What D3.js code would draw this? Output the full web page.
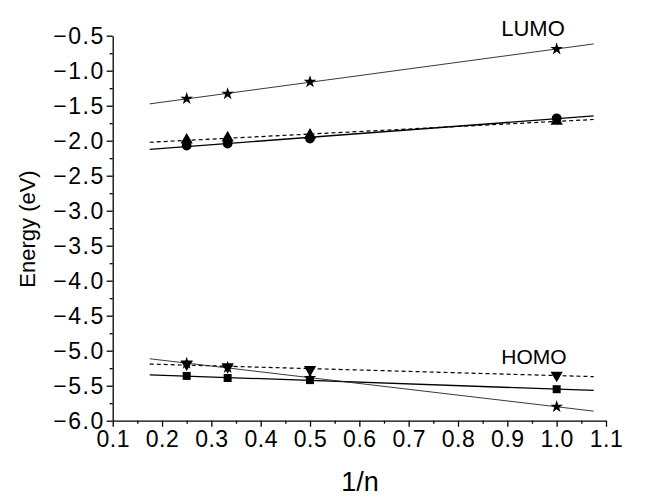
<!DOCTYPE html>
<html><head><meta charset="utf-8">
<script src="https://cdn.jsdelivr.net/npm/d3@7"></script>
<style>body{margin:0;background:#fff}svg{display:block}text{font-family:"Liberation Sans",Arial,sans-serif;fill:#000}</style>
</head><body><svg id="c" width="652" height="501"></svg>
<script>
const xValues = [0.25, 0.333, 0.5, 1.0];
const lumoStar = [-1.40, -1.33, -1.16, -0.69];
const lumoCircle = [-2.07, -2.04, -1.97, -1.68];
const lumoTriangle = [-1.99, -1.96, -1.92, -1.72];
const homoTriangleDown = [-5.19, -5.23, -5.27, -5.35];
const homoSquare = [-5.36, -5.39, -5.42, -5.55];
const homoStar = [-5.18, -5.24, -5.39, -5.80];
const xTicks = [0.1,0.2,0.3,0.4,0.5,0.6,0.7,0.8,0.9,1.0,1.1];
const yTicks = [-0.5,-1.0,-1.5,-2.0,-2.5,-3.0,-3.5,-4.0,-4.5,-5.0,-5.5,-6.0];
const fitRange = [0.175, 1.075];

const series = [
  {vals: lumoStar, sym: "star", line: "thin"},
  {vals: lumoCircle, sym: "circle", line: "solid"},
  {vals: lumoTriangle, sym: "tri", line: "dash"},
  {vals: homoTriangleDown, sym: "tridown", line: "dash"},
  {vals: homoSquare, sym: "square", line: "solid"},
  {vals: homoStar, sym: "star", line: "thin"}
];

const svg = d3.select("#c");
const x = d3.scaleLinear().domain([0.1, 1.1]).range([112.7, 606]);
const y = d3.scaleLinear().domain([-6.0, -0.5]).range([420.7, 35.7]);
const fmt = d3.format(".1f");

// axes
const xMinor = d3.range(0.15, 1.1, 0.1);
const yMinor = d3.range(-5.75, -0.5, 0.5);
const gx = svg.append("g").attr("transform", "translate(0,420.7)")
  .call(d3.axisBottom(x).tickValues(xTicks).tickFormat(fmt).tickSize(6).tickSizeOuter(0));
svg.append("g").attr("transform", "translate(0,420.7)")
  .call(d3.axisBottom(x).tickValues(xMinor).tickFormat("").tickSize(3).tickSizeOuter(0))
  .select(".domain").remove();
const gy = svg.append("g").attr("transform", "translate(112.7,0)")
  .call(d3.axisLeft(y).tickValues(yTicks).tickFormat(fmt).tickSize(6).tickSizeOuter(0));
svg.append("g").attr("transform", "translate(112.7,0)")
  .call(d3.axisLeft(y).tickValues(yMinor).tickFormat("").tickSize(3).tickSizeOuter(0))
  .select(".domain").remove();
svg.selectAll(".domain, .tick line").attr("stroke", "#000").attr("stroke-width", 1.3);
svg.selectAll(".tick text").style("font-family", '"Liberation Sans",Arial,sans-serif');
gx.selectAll("text").attr("font-size", 23).attr("letter-spacing", 0.5).attr("dy", "0.71em").attr("y", 10);
gy.selectAll("text").attr("font-size", 23).attr("x", -8).attr("dy", "0.36em").attr("letter-spacing", 1.5);

svg.append("text").attr("x", 360).attr("y", 491).attr("text-anchor", "middle")
  .attr("font-size", 27).text("1/n");
svg.append("text").attr("transform", "translate(35,229) rotate(-90)").attr("text-anchor", "middle")
  .attr("font-size", 22).text("Energy (eV)");
svg.append("text").attr("x", 533).attr("y", 36).attr("text-anchor", "middle").attr("font-size", 22).text("LUMO");
svg.append("text").attr("x", 534).attr("y", 364).attr("text-anchor", "middle").attr("font-size", 21).text("HOMO");

// fit lines
function fit(xs, ys) {
  const mx = d3.mean(xs), my = d3.mean(ys);
  let sxy = 0, sxx = 0;
  xs.forEach((v, i) => { sxy += (v - mx) * (ys[i] - my); sxx += (v - mx) * (v - mx); });
  const b = sxy / sxx;
  return v => my + b * (v - mx);
}
const lineGen = d3.line().x(d => x(d[0])).y(d => y(d[1]));
series.forEach(s => {
  const f = fit(xValues, s.vals);
  const p = svg.append("path").attr("fill", "none")
    .attr("d", lineGen(fitRange.map(v => [v, f(v)])));
  if (s.line === "thin") p.attr("stroke", "#222").attr("stroke-width", 0.9);
  else if (s.line === "solid") p.attr("stroke", "#000").attr("stroke-width", 1.3);
  else p.attr("stroke", "#000").attr("stroke-width", 1.2).attr("stroke-dasharray", "4,3");
});

// markers
const symMap = {
  star: [d3.symbolStar, 50, 0],
  circle: [d3.symbolCircle, 75, 0],
  tri: [d3.symbolTriangle, 65, 0],
  tridown: [d3.symbolTriangle, 65, 180],
  square: [d3.symbolSquare, 64, 0]
};
series.forEach(s => {
  const [t, sz, rot] = symMap[s.sym];
  svg.append("g").selectAll("path").data(s.vals).join("path")
    .attr("d", d3.symbol().type(t).size(sz))
    .attr("transform", (d, i) => `translate(${x(xValues[i])},${y(d)}) rotate(${rot})`)
    .attr("fill", "#000");
});
</script></body></html>
